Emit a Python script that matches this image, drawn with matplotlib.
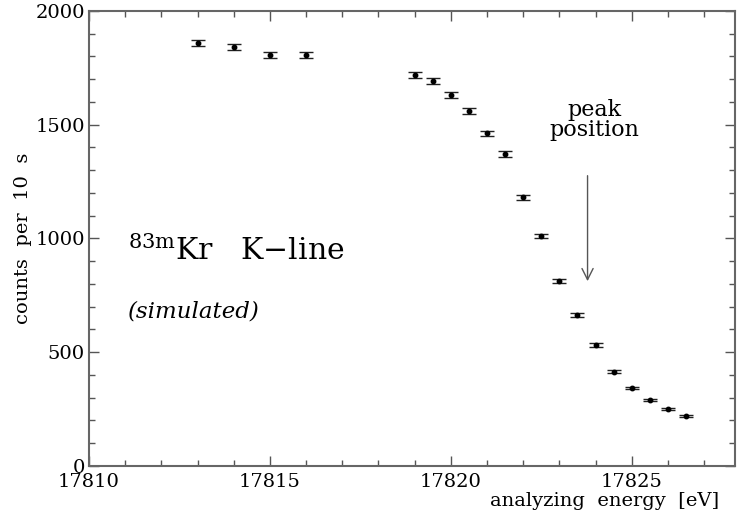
import numpy as np
import matplotlib.pyplot as plt
from matplotlib.ticker import MultipleLocator

plt.rcParams['font.family'] = 'DejaVu Serif'
plt.rcParams['mathtext.fontset'] = 'dejavuserif'

energy = [17813.0, 17814.0, 17815.0, 17816.0, 17819.0, 17819.5, 17820.0, 17820.5,
          17821.0, 17821.5, 17822.0, 17822.5, 17823.0, 17823.5, 17824.0, 17824.5,
          17825.0, 17825.5, 17826.0, 17826.5]
counts = [1859, 1842, 1807, 1805, 1717, 1692, 1631, 1561, 1462, 1371, 1182, 1011,
          813, 664, 532, 415, 343, 290, 251, 220]
errors = [14, 14, 14, 14, 13, 13, 13, 13, 12, 12, 11, 10, 9, 8, 7, 7, 6, 6, 5, 5]

peak_x = 17823.78
arrow_top, arrow_bottom = 1288, 800

fig = plt.figure(figsize=(7.37, 5.21), dpi=100)
ax = fig.add_axes([0.1208, 0.1056, 0.8762, 0.8734])

ax.errorbar(energy, counts, yerr=errors, fmt='o', color='black', ms=3.2,
            ecolor='#222222', elinewidth=1.0, capsize=5, capthick=1.0)

ax.annotate('', xy=(peak_x, arrow_bottom), xytext=(peak_x, arrow_top),
            arrowprops=dict(arrowstyle='->', color='#555555', lw=1.0,
                            mutation_scale=20))
ax.text(17823.98, 1520, 'peak\nposition', ha='center', va='center',
        fontsize=16, linespacing=0.85)
ax.text(17811.08, 905, r'$^{\mathrm{83m}}$Kr   K$-$line', fontsize=21.5,
        ha='left', va='baseline')
ax.text(17811.08, 681, '(simulated)', fontsize=16.5, fontstyle='italic',
        ha='left', va='center')

ax.set_xlim(17810, 17827.85)
ax.set_ylim(0, 2000)
ax.xaxis.set_major_locator(MultipleLocator(5))
ax.xaxis.set_minor_locator(MultipleLocator(1))
ax.yaxis.set_major_locator(MultipleLocator(500))
ax.yaxis.set_minor_locator(MultipleLocator(100))
ax.xaxis.set_major_formatter(plt.FuncFormatter(lambda v, p: '%d' % v))

ax.tick_params(which='both', direction='in', top=True, right=True,
               color='#555555', width=1.0, labelsize=14)
ax.tick_params(which='major', length=7, pad=3)
ax.tick_params(axis='x', which='major', pad=5)
ax.tick_params(which='minor', length=4)
for s in ax.spines.values():
    s.set_color('#666666')
    s.set_linewidth(1.5)

ax.set_xlabel('analyzing  energy  [eV]', fontsize=14, loc='right')
ax.xaxis.set_label_coords(0.975, -0.058)
ax.set_ylabel('counts  per  10  s', fontsize=14)
ax.yaxis.set_label_coords(-0.088, 0.5)

fig.savefig('out.png', dpi=100)
